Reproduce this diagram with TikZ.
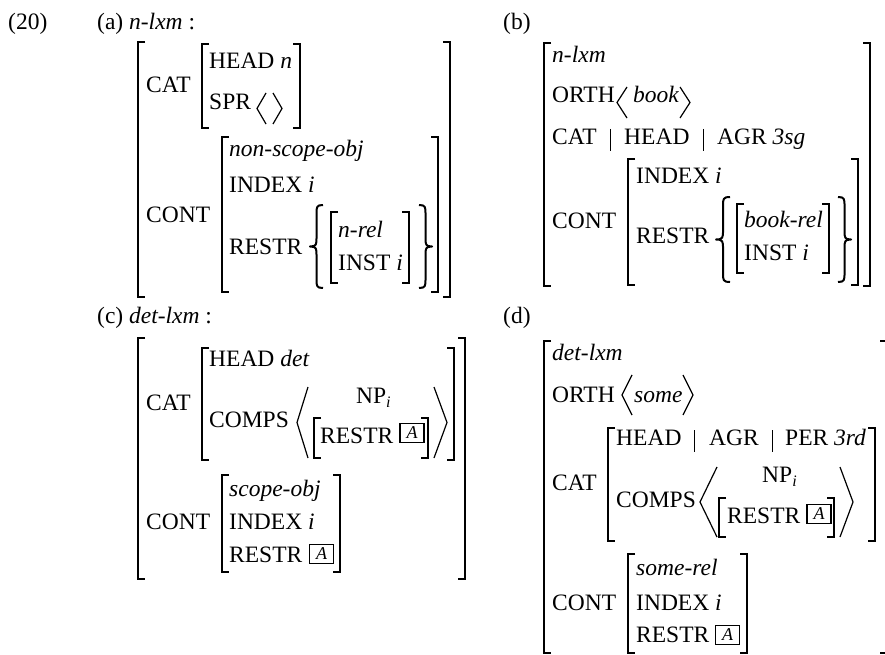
\documentclass[tikz,border=0pt]{standalone}
\usepackage{fontspec}
\setmainfont{Liberation Serif}
\newcommand{\LBk}[3]{\draw[brk] ({#1+7},#2) -- (#1,#2) -- (#1,#3) -- ({#1+7},#3);}
\newcommand{\RBk}[3]{\draw[brk] ({#1-7},#2) -- (#1,#2) -- (#1,#3) -- ({#1-7},#3);}
% tip x, end x, top y, bottom y
\newcommand{\Ang}[4]{\draw[ang] (#2,#3) -- (#1,{(#3+#4)/2}) -- (#2,#4);}
\newcommand{\Brc}[4]{\draw[brc] (#2,#3) .. controls ({(#1+#2)/2},#3) and ({(#1+#2)/2},{#3+2}) .. ({(#1+#2)/2},{#3+9})
  -- ({(#1+#2)/2},{(#3+#4)/2-9}) .. controls ({(#1+#2)/2},{(#3+#4)/2-2}) and ({(#1+#2)/2},{(#3+#4)/2}) .. (#1,{(#3+#4)/2})
  .. controls ({(#1+#2)/2},{(#3+#4)/2}) and ({(#1+#2)/2},{(#3+#4)/2+2}) .. ({(#1+#2)/2},{(#3+#4)/2+9})
  -- ({(#1+#2)/2},{#4-9}) .. controls ({(#1+#2)/2},{#4-2}) and ({(#1+#2)/2},#4) .. (#2,#4);}
\newcommand{\subi}{{\fontsize{16}{16}\selectfont\raisebox{-4pt}{\textit{i}}}}
\begin{document}
\begin{tikzpicture}[x=1pt,y=-1pt,
  lbl/.style={anchor=base west, inner sep=0pt, font=\fontsize{23.5}{28}\selectfont},
  brk/.style={line width=1.5pt},
  ang/.style={line width=1.2pt},
  brc/.style={line width=2pt, line join=round},
  bar/.style={line width=1pt},
  boxa/.style={draw, line width=1.8pt, minimum width=24pt, minimum height=19pt, inner sep=0pt, font=\fontsize{18}{18}\selectfont\itshape}]
\useasboundingbox (0,0) rectangle (885,655);
% ---------------- (a)
\node[lbl] (n20) at (8,30) {(20)};
\node[lbl] (la) at (97,30) {(a) \textit{n-lxm} :};
\LBk{138}{42}{297} \RBk{450}{42}{297}
\node[lbl] (acat) at (146,93) {CAT};
\LBk{202}{44}{128} \RBk{300}{44}{128}
\node[lbl] (ahead) at (209,69) {HEAD \textit{n}};
\node[lbl] (aspr) at (209,110) {SPR};
\Ang{257}{266}{93}{124} \Ang{282}{273}{93}{124}
\node[lbl] (acont) at (146,222) {CONT};
\LBk{222}{137}{292} \RBk{438}{137}{292}
\node[lbl] (atype) at (229,157) {\textit{non-scope-obj}};
\node[lbl] (aindex) at (229,193) {INDEX \textit{i}};
\node[lbl] (arestr) at (229,254) {RESTR};
\Brc{310}{323}{205}{288}
\LBk{331}{212}{283} \RBk{409}{212}{283}
\node[lbl] (arel) at (338,237) {\textit{n-rel}};
\node[lbl] (ainst) at (338,270) {INST \textit{i}};
\Brc{432}{419}{205}{288}
% ---------------- (b)
\node[lbl] (lb) at (503,30) {(b)};
\LBk{544}{43}{286} \RBk{870}{43}{286}
\node[lbl] (btype) at (552,63) {\textit{n-lxm}};
\node[lbl] (borth) at (552,103) {ORTH};
\Ang{617}{627}{87}{118}
\node[lbl] (bbook) at (633,103) {\textit{book}};
\Ang{690}{680}{87}{118}
\node[lbl] (bcat) at (552,145) {CAT};
\draw[bar] (610,129) -- (610,151);
\node[lbl] (bhead) at (624,145) {HEAD};
\draw[bar] (703,129) -- (703,151);
\node[lbl] (bagr) at (717,145) {AGR \textit{3sg}};
\node[lbl] (bcont) at (552,228) {CONT};
\LBk{628}{159}{285} \RBk{858}{159}{285}
\node[lbl] (bindex) at (636,183) {INDEX \textit{i}};
\node[lbl] (brestr) at (636,243) {RESTR};
\Brc{716}{730}{197}{282}
\LBk{737}{204}{273} \RBk{829}{204}{273}
\node[lbl] (brel) at (744,227) {\textit{book-rel}};
\node[lbl] (binst) at (744,260) {INST \textit{i}};
\Brc{851}{838}{197}{282}
% ---------------- (c)
\node[lbl] (lc) at (97,323) {(c) \textit{det-lxm} :};
\LBk{138}{338}{579} \RBk{465}{338}{579}
\node[lbl] (ccat) at (146,410) {CAT};
\LBk{202}{348}{460} \RBk{454}{348}{460}
\node[lbl] (chead) at (209,366) {HEAD \textit{det}};
\node[lbl] (ccomps) at (209,427) {COMPS};
\Ang{297}{308}{387}{458}
\node[lbl] (cnp) at (356,403) {NP\subi};
\LBk{314}{418}{458} \RBk{428}{418}{458}
\node[lbl] (crestr1) at (320,443) {RESTR};
\node[boxa] (cbox1) at (412,433) {A};
\Ang{447}{434}{387}{458}
\node[lbl] (ccont) at (146,529) {CONT};
\LBk{222}{475}{572} \RBk{340}{475}{572}
\node[lbl] (ctype) at (229,496) {\textit{scope-obj}};
\node[lbl] (cindex) at (229,529) {INDEX \textit{i}};
\node[lbl] (crestr2) at (229,562) {RESTR};
\node[boxa] (cbox2) at (321.5,554) {A};
% ---------------- (d)
\node[lbl] (ld) at (503,323) {(d)};
\LBk{544}{341}{653} \RBk{887}{341}{653}
\node[lbl] (dtype) at (552,360) {\textit{det-lxm}};
\node[lbl] (dorth) at (552,402) {ORTH};
\Ang{622}{632}{375}{415}
\node[lbl] (dsome) at (634,402) {\textit{some}};
\Ang{693}{683}{375}{415}
\node[lbl] (dcat) at (552,490) {CAT};
\LBk{608}{428}{541} \RBk{875}{428}{541}
\node[lbl] (dhead) at (616,445) {HEAD};
\draw[bar] (694,430) -- (694,452);
\node[lbl] (dagr) at (709,445) {AGR};
\draw[bar] (772,430) -- (772,452);
\node[lbl] (dper) at (785,445) {PER \textit{3rd}};
\node[lbl] (dcomps) at (616,507) {COMPS};
\Ang{700}{717}{467}{537}
\node[lbl] (dnp) at (762,482) {NP\subi};
\LBk{719}{498}{537} \RBk{834}{498}{537}
\node[lbl] (drestr1) at (727,523) {RESTR};
\node[boxa] (dbox1) at (819,514) {A};
\Ang{853}{840}{467}{537}
\node[lbl] (dcont) at (552,610) {CONT};
\LBk{628}{554}{653} \RBk{747}{554}{653}
\node[lbl] (dtype2) at (636,575) {\textit{some-rel}};
\node[lbl] (dindex) at (636,610) {INDEX \textit{i}};
\node[lbl] (drestr2) at (636,642) {RESTR};
\node[boxa] (dbox2) at (727.5,635) {A};
\end{tikzpicture}
\end{document}
